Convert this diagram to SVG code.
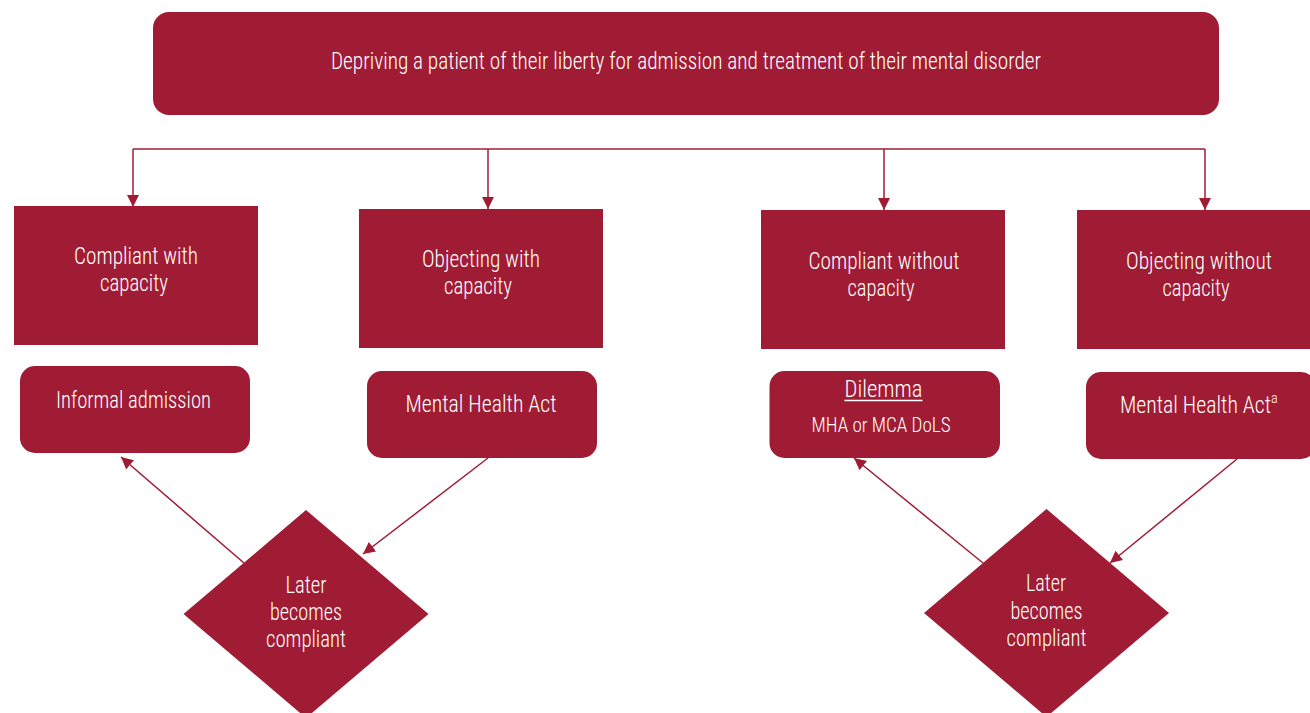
<svg xmlns="http://www.w3.org/2000/svg" width="1310" height="713" viewBox="0 0 1310 713">
<style>
.box{fill:#A01C34}
.t{fill:#fff;font-family:"Roboto Condensed",Roboto,"Liberation Sans Narrow","Liberation Sans",sans-serif;font-weight:300;font-size:23px;text-anchor:middle}
.s{font-size:20px}
.c{stroke:#A01C34;stroke-width:1.5;fill:none}
</style>
<defs>
<marker id="ah" viewBox="0 0 12 12" markerWidth="12" markerHeight="12" refX="12" refY="6" orient="auto" markerUnits="userSpaceOnUse">
<path d="M0,0 L12,6 L0,12 z" fill="#A01C34"/>
</marker>
</defs>
<rect width="1310" height="713" fill="#fff"/>
<g id="connectors">
<path class="c" d="M133,149 H1205"/>
<path class="c" d="M133,149 V207" marker-end="url(#ah)"/>
<path class="c" d="M488,149 V209" marker-end="url(#ah)"/>
<path class="c" d="M884,149 V210" marker-end="url(#ah)"/>
<path class="c" d="M1205,149 V210" marker-end="url(#ah)"/>
<path class="c" d="M244,563 L121,457" marker-end="url(#ah)"/>
<path class="c" d="M488,458 L363,554" marker-end="url(#ah)"/>
<path class="c" d="M983,563 L854,458" marker-end="url(#ah)"/>
<path class="c" d="M1237,459 L1110,563" marker-end="url(#ah)"/>
</g>
<g id="top">
<rect class="box" x="153" y="12" width="1066" height="103" rx="16"/>
<text class="t" x="686" y="69" textLength="710" lengthAdjust="spacingAndGlyphs">Depriving a patient of their liberty for admission and treatment of their mental disorder</text>
</g>
<g id="compliant-with">
<rect class="box" x="14" y="206" width="244" height="139"/>
<text class="t" x="136" y="264" textLength="124" lengthAdjust="spacingAndGlyphs">Compliant with</text>
<text class="t" x="134" y="291" textLength="68" lengthAdjust="spacingAndGlyphs">capacity</text>
</g>
<g id="objecting-with">
<rect class="box" x="359" y="209" width="244" height="139"/>
<text class="t" x="481" y="267" textLength="118" lengthAdjust="spacingAndGlyphs">Objecting with</text>
<text class="t" x="478" y="294" textLength="68" lengthAdjust="spacingAndGlyphs">capacity</text>
</g>
<g id="compliant-without">
<rect class="box" x="761" y="210" width="244" height="139"/>
<text class="t" x="884" y="269" textLength="151" lengthAdjust="spacingAndGlyphs">Compliant without</text>
<text class="t" x="881" y="296" textLength="67" lengthAdjust="spacingAndGlyphs">capacity</text>
</g>
<g id="objecting-without">
<rect class="box" x="1077" y="210" width="244" height="139"/>
<text class="t" x="1199" y="269" textLength="146" lengthAdjust="spacingAndGlyphs">Objecting without</text>
<text class="t" x="1196" y="296" textLength="67" lengthAdjust="spacingAndGlyphs">capacity</text>
</g>
<g id="informal">
<rect class="box" x="20" y="366" width="230" height="87" rx="15"/>
<text class="t" x="133.5" y="408" textLength="155" lengthAdjust="spacingAndGlyphs">Informal admission</text>
</g>
<g id="mha1">
<rect class="box" x="367" y="371" width="230" height="87" rx="15"/>
<text class="t" x="481" y="412" textLength="151" lengthAdjust="spacingAndGlyphs">Mental Health Act</text>
</g>
<g id="dilemma">
<rect class="box" x="769.5" y="371" width="230.5" height="87" rx="15"/>
<text class="t" x="883.5" y="397" textLength="78" lengthAdjust="spacingAndGlyphs">Dilemma</text>
<path d="M844.5,400.5 H922.5" stroke="#fff" stroke-width="1.3"/>
<text class="t s" x="881" y="432" textLength="139" lengthAdjust="spacingAndGlyphs">MHA or MCA DoLS</text>
</g>
<g id="mha2">
<rect class="box" x="1086" y="372" width="230" height="87" rx="15"/>
<text class="t" x="1120" y="413" style="text-anchor:start"><tspan textLength="151" lengthAdjust="spacingAndGlyphs">Mental Health Act</tspan><tspan dy="-10" style="font-size:14px">a</tspan></text>
</g>
<g id="later1">
<polygon class="box" points="306,510 428.5,614 306,718 183.5,614"/>
<text class="t" x="306" y="593" textLength="41" lengthAdjust="spacingAndGlyphs">Later</text>
<text class="t" x="306" y="620" textLength="72" lengthAdjust="spacingAndGlyphs">becomes</text>
<text class="t" x="306" y="647" textLength="80" lengthAdjust="spacingAndGlyphs">compliant</text>
</g>
<g id="later2">
<polygon class="box" points="1046.5,509 1169,613 1046.5,717 924,613"/>
<text class="t" x="1046" y="591" textLength="40" lengthAdjust="spacingAndGlyphs">Later</text>
<text class="t" x="1046.5" y="619" textLength="72" lengthAdjust="spacingAndGlyphs">becomes</text>
<text class="t" x="1046.5" y="646" textLength="80" lengthAdjust="spacingAndGlyphs">compliant</text>
</g>
</svg>
